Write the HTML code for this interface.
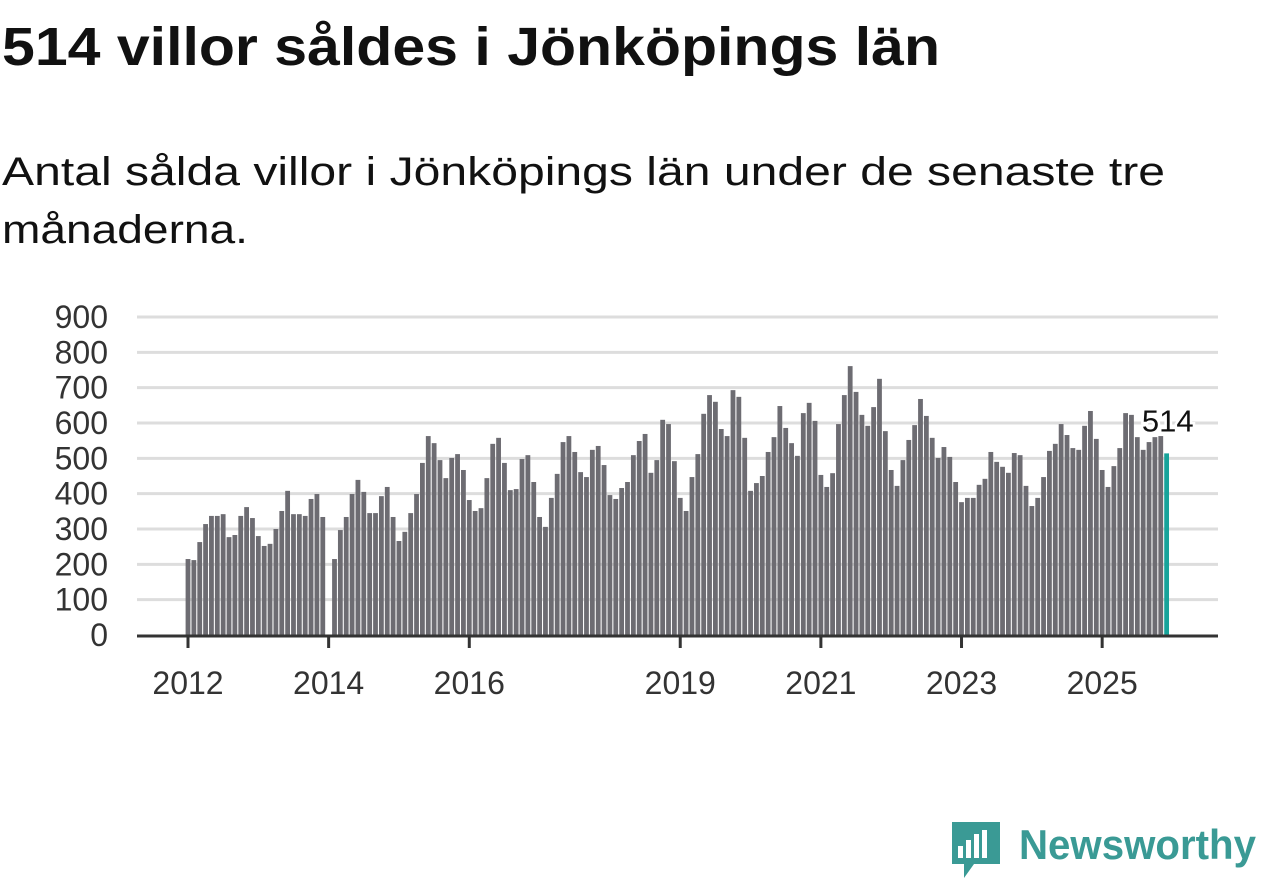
<!DOCTYPE html>
<html><head><meta charset="utf-8"><style>
html,body{margin:0;padding:0;background:#fff;}
svg{display:block;font-family:"Liberation Sans","DejaVu Sans",sans-serif;}
</style></head><body>
<svg id="chart" width="1262" height="879" viewBox="0 0 1262 879" xmlns="http://www.w3.org/2000/svg">
<text x="2" y="65" font-size="54" font-weight="bold" fill="#111" textLength="938" lengthAdjust="spacingAndGlyphs">514 villor såldes i Jönköpings län</text>
<text x="2" y="185" font-size="40" fill="#111" textLength="1163" lengthAdjust="spacingAndGlyphs">Antal sålda villor i Jönköpings län under de senaste tre</text>
<text x="2" y="243" font-size="40" fill="#111" textLength="246" lengthAdjust="spacingAndGlyphs">månaderna.</text>
<g id="grid"></g>
<g id="ylabels"></g>
<g id="bars"></g>
<g id="xaxis"></g>
<g>
<path d="M952 822 h48 v42 h-26 l-10 14 v-14 h-12 z" fill="#3a9a95"/>
<rect x="958" y="846" width="5" height="12" fill="#fff"/><rect x="966" y="840" width="5" height="18" fill="#fff"/><rect x="974" y="834" width="5" height="24" fill="#fff"/><rect x="982" y="830" width="5" height="28" fill="#fff"/>
<text x="1019" y="859" font-size="42" font-weight="bold" fill="#3a9a95" textLength="237" lengthAdjust="spacingAndGlyphs">Newsworthy</text>
</g>
</svg>
<script>
const yTicks = [0,100,200,300,400,500,600,700,800,900];
const xTickYears = [2012,2014,2016,2019,2021,2023,2025];
const startYear = 2012;
const values2012 = [215,212,263,314,337,337,342,277,283,337,362,331];
const values2013 = [280,252,258,300,351,408,342,342,337,385,399,334];
const values2014 = [null,215,297,334,399,439,405,345,345,393,419,334];
const values2015 = [266,292,345,399,487,563,543,495,444,501,512,467];
const values2016 = [382,351,359,444,541,558,487,410,413,498,509,433];
const values2017 = [334,306,388,456,546,563,518,461,447,524,535,481];
const values2018 = [396,385,416,433,509,549,569,459,495,609,597,492];
const values2019 = [388,351,447,512,626,679,660,583,563,693,674,558];
const values2020 = [408,430,450,518,560,648,586,543,507,628,657,606];
const values2021 = [453,419,458,597,679,761,688,623,592,645,725,577];
const values2022 = [467,422,495,552,594,668,620,558,501,532,504,433];
const values2023 = [376,388,388,425,442,518,490,476,459,515,509,422];
const values2024 = [365,388,447,521,541,597,566,529,524,592,634,555];
const values2025 = [467,419,478,529,628,623,560,524,546,560,563,514];
const values = [].concat(values2012,values2013,values2014,values2015,values2016,values2017,values2018,values2019,values2020,values2021,values2022,values2023,values2024,values2025);

const NS="http://www.w3.org/2000/svg";
const x0=188, slot=5.86, plotL=137, plotR=1218, yBase=635, yPer=318/900;
function xPos(i){return x0+i*slot;}
function yPos(v){return yBase-v*yPer;}
function mk(tag,attrs,parent){const e=document.createElementNS(NS,tag);for(const k in attrs)e.setAttribute(k,attrs[k]);parent.appendChild(e);return e;}
const grid=document.getElementById('grid'), yl=document.getElementById('ylabels'), bars=document.getElementById('bars'), xa=document.getElementById('xaxis');
yTicks.forEach(t=>{
  if(t>0){const l=mk('line',{x1:plotL,x2:plotR,y1:yPos(t),y2:yPos(t),stroke:'#dddddd','stroke-width':3},grid);
  
  }
  const tx=mk('text',{x:108,y:yPos(t)+11,'text-anchor':'end','font-size':32,fill:'#333'},yl);
  tx.textContent=t;
  
  
});
values.forEach((v,i)=>{
  if(v==null)return;
  const last=i===values.length-1;
  const r=mk('rect',{x:xPos(i)-2.4,y:yPos(v),width:4.8,height:v*yPer,fill:last?'#17a39a':'#6d6c72'},bars);
  
  
});
const li=values.length-1;
const lab=mk('text',{x:xPos(li)+27,y:yPos(values[li])-22,'text-anchor':'end','font-size':31,fill:'#111',stroke:'#fff','stroke-width':5,'paint-order':'stroke'},bars);
lab.textContent=values[li];


const ax=mk('line',{x1:plotL,x2:plotR,y1:yBase+1,y2:yBase+1,stroke:'#333','stroke-width':3},xa);


xTickYears.forEach(yr=>{
  const x=xPos((yr-startYear)*12);
  const t=mk('line',{x1:x,x2:x,y1:yBase,y2:yBase+13,stroke:'#333','stroke-width':3},xa);
  
  
  const tx=mk('text',{x:x,y:yBase+59,'text-anchor':'middle','font-size':32,fill:'#333'},xa);
  tx.textContent=yr;
  
  
});
</script>
</body></html>
